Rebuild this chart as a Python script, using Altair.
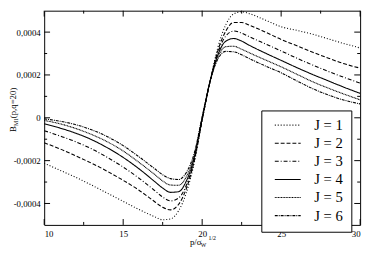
import altair as alt
import pandas as pd

# ---- data (values in units of 1e-4) ----
p = [10, 11, 12, 13, 14, 15, 16, 17, 17.5, 18, 18.5, 19, 19.5, 20, 20.5, 21,
     21.5, 22, 22.5, 23, 24, 25, 26, 27, 28, 29, 30]
J1 = [-2.12, -2.45, -2.78, -3.14, -3.52, -3.90, -4.28, -4.62, -4.76, -4.72, -4.35, -3.50, -2.10, -0.10,
      1.70, 3.30, 4.35, 4.85, 4.95, 4.86, 4.56, 4.25, 4.08, 3.90, 3.68, 3.46, 3.26]
J2 = [-1.17, -1.45, -1.78, -2.12, -2.50, -2.92, -3.38, -3.92, -4.18, -4.30, -4.05, -3.30, -2.00, -0.10,
      1.70, 3.15, 4.05, 4.45, 4.45, 4.32, 4.00, 3.66, 3.36, 3.06, 2.78, 2.52, 2.32]
J3 = [-0.60, -0.85, -1.12, -1.45, -1.85, -2.30, -2.82, -3.40, -3.70, -3.88, -3.75, -3.15, -1.95, -0.10,
      1.70, 3.05, 3.82, 4.05, 3.95, 3.78, 3.45, 3.12, 2.78, 2.46, 2.16, 1.88, 1.62]
J4 = [-0.28, -0.48, -0.72, -1.02, -1.40, -1.85, -2.38, -2.98, -3.28, -3.48, -3.45, -2.95, -1.85, -0.05,
      1.70, 2.95, 3.58, 3.70, 3.58, 3.38, 3.02, 2.68, 2.34, 2.02, 1.72, 1.42, 1.14]
J5 = [-0.12, -0.28, -0.50, -0.78, -1.12, -1.55, -2.08, -2.65, -2.95, -3.14, -3.15, -2.75, -1.75, 0.00,
      1.70, 2.85, 3.32, 3.34, 3.20, 3.03, 2.70, 2.38, 2.03, 1.68, 1.38, 1.10, 0.84]
J6 = [-0.05, -0.16, -0.32, -0.56, -0.88, -1.30, -1.82, -2.38, -2.66, -2.84, -2.88, -2.55, -1.65, 0.05,
      1.70, 2.75, 3.10, 3.08, 2.94, 2.76, 2.42, 2.10, 1.72, 1.36, 1.06, 0.82, 0.65]
labels = ["J = 1", "J = 2", "J = 3", "J = 4", "J = 5", "J = 6"]
x_major = [10, 15, 20, 25, 30]
x_minor = [12.5, 17.5, 22.5, 27.5]
y_major = [-0.0004, -0.0002, 0, 0.0002, 0.0004]
y_minor = [-0.0003, -0.0001, 0.0001, 0.0003]

dashes = [[1, 2], [4, 2], [4, 2, 1, 2], [1, 0], [1, 0.6], [3, 1, 1, 1]]

rows = []
for lab, ys in zip(labels, [J1, J2, J3, J4, J5, J6]):
    for xv, yv in zip(p, ys):
        rows.append({"p": xv, "B": yv * 1e-4, "J": lab})
df = pd.DataFrame(rows)

W, H = 323, 219
FONT = "Times New Roman"

xscale = alt.Scale(domain=[10, 30], nice=False, zero=False)
yscale = alt.Scale(domain=[-0.0005, 0.0005], nice=False, zero=False)

lines = alt.Chart(df).mark_line(color="black", strokeWidth=1.1, interpolate="monotone", clip=True).encode(
    x=alt.X("p:Q", scale=xscale,
            axis=alt.Axis(values=x_major, title=None, tickSize=0, domain=False, grid=False,
                          labelFont=FONT, labelFontSize=9, labelPadding=5, labelColor="black")),
    y=alt.Y("B:Q", scale=yscale,
            axis=alt.Axis(values=y_major, title=None, tickSize=0, domain=False, grid=False,
                          labelFont=FONT, labelFontSize=9, labelPadding=4, labelColor="black",
                          labelExpr="replace(toString(datum.value), '.', ',')")),
    strokeDash=alt.StrokeDash("J:N", scale=alt.Scale(domain=labels, range=dashes),
                              legend=alt.Legend(orient="none", legendX=222, legendY=102, title=None,
                                                strokeColor="black", fillColor="white", padding=8,
                                                symbolOffset=5,
                                                symbolType="stroke", symbolStrokeColor="black",
                                                symbolStrokeWidth=1.1, symbolSize=700, clipHeight=14,
                                                labelFont=FONT, labelFontSize=15, labelColor="black",
                                                labelOffset=13, rowPadding=3.5)),
)

def xticks(vals, y0, y1):
    return alt.Chart(pd.DataFrame({"p": vals})).mark_rule(color="black", strokeWidth=1).encode(
        x=alt.X("p:Q", scale=xscale), y=alt.value(y0), y2=alt.value(y1))

def yticks(vals, x0, x1):
    return alt.Chart(pd.DataFrame({"B": vals})).mark_rule(color="black", strokeWidth=1).encode(
        y=alt.Y("B:Q", scale=yscale), x=alt.value(x0), x2=alt.value(x1))

ticks = [
    xticks(x_major, H, H - 6), xticks(x_major, 0, 6),
    xticks(x_minor, H, H - 3), xticks(x_minor, 0, 3),
    yticks(y_major, 0, 6), yticks(y_major, W, W - 6),
    yticks(y_minor, 0, 3), yticks(y_minor, W, W - 3),
]

one = pd.DataFrame({"a": [0]})

def txt(s, x, y, size, angle=0):
    return alt.Chart(one).mark_text(text=s, font=FONT, fontSize=size, color="black", align="left",
                                    baseline="alphabetic", angle=angle).encode(
        x=alt.value(x), y=alt.value(y))

titles = [
    txt("p/σ", 149, 240, 9),
    txt("W", 160, 242, 6),
    txt("1/2", 168, 234, 6),
    txt("B", -29, 124, 9, 270),
    txt("M1", -27, 118, 6, 270),
    txt("(p,q=20)", -29, 110, 9, 270),
]

chart = alt.layer(lines, *ticks, *titles).properties(
    width=W, height=H,
    autosize=alt.AutoSizeParams(type="none"),
    padding={"left": 37, "top": 0, "right": 6, "bottom": 27},
).configure_view(stroke="black", strokeWidth=1)

chart.save("out.html", embed_options={"renderer": "svg", "actions": False})
